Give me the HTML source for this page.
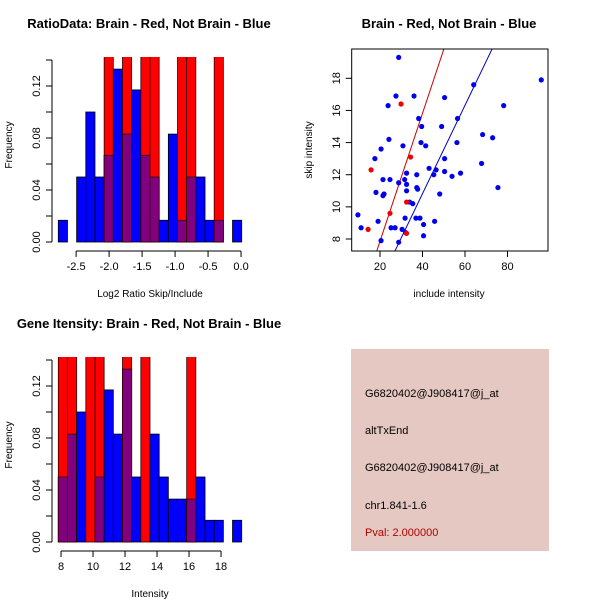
<!DOCTYPE html>
<html><head><meta charset="utf-8"><style>
body{margin:0;background:#fff;}
svg{display:block;font-family:"Liberation Sans",sans-serif;}
</style></head><body>
<svg id="c" width="600" height="600" xmlns="http://www.w3.org/2000/svg">
<rect x="351" y="349" width="198" height="202" fill="#e6c8c2"/>
<g font-size="11">
<text x="365" y="397">G6820402@J908417@j_at</text>
<text x="365" y="434">altTxEnd</text>
<text x="365" y="471">G6820402@J908417@j_at</text>
<text x="365" y="509">chr1.841-1.6</text>
<text x="365" y="536" fill="#b00000">Pval: 2.000000</text>
</g>
</svg>
<script>
// Ratio histogram data (20 bins)
const ratioBlue=[0.0167,0,0.05,0.1,0.05,0.0667,0.133,0.083,0.117,0.0667,0.05,0.0167,0.083,0.0167,0.05,0.05,0.0167,0.0167,0,0.0167];
const ratioRed=[0,0,0,0,0,0.2,0,0.2,0,0.2,0.2,0,0,0.2,0.2,0,0,0.2,0,0];
const ratioStart=-2.77, ratioBinW=0.139;
const ratioTicks=[-2.5,-2.0,-1.5,-1.0,-0.5,0.0];
// Intensity histogram data
const intBlue=[0.05,0.083,0.1,0,0.05,0.117,0.083,0.133,0.05,0,0.083,0.05,0.033,0.033,0.033,0.05,0.0167,0.0167,0,0.0167];
const intRed=[0.2,0.2,0,0.2,0.2,0,0,0.2,0,0.2,0,0,0,0,0.2,0,0,0,0,0];
const intStart=7.83, intBinW=0.573;
const intTicks=[8,10,12,14,16,18];
const freqTicks=[0,0.02,0.04,0.06,0.08,0.10,0.12,0.14];
const freqLabels=["0.00","","0.04","","0.08","","0.12",""];
// Scatter data
const blueX=[28.8,95.9,64.1,78.2,50.4,36.0,27.5,23.8,38.2,56.5,39.6,49.0,24.2,68.3,73.0,56.2,39.3,41.5,30.8,20.5,17.6,50.4,43.1,46.4,67.8,50.4,57.9,53.9,45.3,32.5,37.3,75.5,21.4,24.7,31.6,32.5,28.8,37.3,37.7,32.5,18.1,21.9,21.4,48.1,33.9,35.4,9.6,31.8,36.9,38.8,19.1,45.7,11.1,25.2,27.1,30.4,40.5,32.1,40.5,20.5,28.8];
const blueY=[19.3,17.9,17.6,16.3,16.8,16.9,16.9,16.3,15.5,15.5,15.0,15.0,14.2,14.5,14.3,14.0,14.0,13.8,13.8,13.6,13.0,13.0,12.4,12.3,12.7,12.2,12.1,11.9,12.0,12.1,12.0,11.2,11.7,11.7,11.7,11.4,11.5,11.2,11.1,11.0,10.9,10.8,10.7,10.8,10.3,10.2,9.5,9.3,9.3,9.3,9.1,9.1,8.7,8.7,8.7,8.6,8.9,8.4,8.2,7.9,7.8];
const redX=[29.9,15.8,34.4,24.7,32.5,14.4,32.5];
const redY=[16.4,12.3,13.1,9.6,10.3,8.6,8.35];
const redFit=[-0.1,0.398]; const blueFit=[-0.18,0.275];
const xTicksS=[20,40,60,80]; const yTicksS=[8,10,12,14,16,18];

const svg=document.getElementById('c');const NS="http://www.w3.org/2000/svg";
function el(t,a,p){const e=document.createElementNS(NS,t);for(const k in a)e.setAttribute(k,a[k]);(p||svg).appendChild(e);return e;}
function txt(x,y,s,a,p){const e=el('text',Object.assign({x:x,y:y,'text-anchor':'middle','font-size':11},a||{}),p);e.textContent=s;return e;}

function hist(oy,blue,red,start,bw,xt,xtFmt,title,xlab,name){
  const g=el('g',{});
  
  
  const x0=58.3,px=9.17/bw; const X=v=>x0+(v-start)*px; const base=oy+242; const Y=v=>base-v*1300; const top=oy+57;
  const cid='clip'+oy; const cp=el('clipPath',{id:cid},g); el('rect',{x:0,y:top,width:300,height:base-top+1},cp);
  const bars=el('g',{'clip-path':'url(#'+cid+')'},g);
  for(let i=0;i<blue.length;i++){
    const a=X(start+i*bw),w=px*bw;
    if(blue[i]>0){const r=el('rect',{x:a,y:Y(blue[i]),width:w,height:blue[i]*1300,fill:'#0000ff',stroke:'#000','stroke-width':0.8},bars);
      }
    if(red[i]>0){const r=el('rect',{x:a,y:Y(red[i]),width:w,height:red[i]*1300,fill:'#ff0000',stroke:'#300','stroke-width':0.8},bars);
      
      const m=Math.min(blue[i],red[i]);
      if(m>0){const p=el('rect',{x:a,y:Y(m),width:w,height:m*1300,fill:'#800080',stroke:'#300','stroke-width':0.8},bars);
        }}
  }
  el('line',{x1:52,x2:52,y1:Y(0),y2:Y(0.14),stroke:'#000'},g);
  freqTicks.forEach((v,i)=>{el('line',{x1:46,x2:52,y1:Y(v),y2:Y(v),stroke:'#000'},g);
    if(freqLabels[i]){txt(36,Y(v)+4,freqLabels[i],{transform:'rotate(-90 36 '+Y(v)+')'},g);}});
  txt(12,oy+145,'Frequency',{transform:'rotate(-90 12 '+(oy+145)+')','font-size':10},g);
  const ay=oy+251;
  el('line',{x1:X(xt[0]),x2:X(xt[xt.length-1]),y1:ay,y2:ay,stroke:'#000'},g);
  xt.forEach(v=>{el('line',{x1:X(v),x2:X(v),y1:ay,y2:ay+6,stroke:'#000'},g);txt(X(v),ay+19,xtFmt(v),{},g);});
  txt(150,oy+297,xlab,{'font-size':10},g);
  txt(149,oy+28,title,{'font-weight':'bold','font-size':13},g);
}
hist(0,ratioBlue,ratioRed,ratioStart,ratioBinW,ratioTicks,v=>v.toFixed(1),'RatioData: Brain - Red, Not Brain - Blue','Log2 Ratio Skip/Include','ratio-histogram');
hist(300,intBlue,intRed,intStart,intBinW,intTicks,v=>String(v),'Gene Itensity: Brain - Red, Not Brain - Blue','Intensity','intensity-histogram');

(function(){
  const g=el('g',{});
  
  
  const L=351.7,R=548,T=49,B=251;
  const X=v=>380+(v-20)*2.125, Y=v=>239-(v-8)*16.07;
  const cp=el('clipPath',{id:'sc'},g);el('rect',{x:L,y:T,width:R-L,height:B-T},cp);
  const inner=el('g',{'clip-path':'url(#sc)'},g);
  [[redFit,'#d00000','red-fit-line'],[blueFit,'#0000c0','blue-fit-line']].forEach(([f,c,n])=>{
    const xa=0,xb=110;const ln=el('line',{x1:X(xa),y1:Y(f[0]+f[1]*xa),x2:X(xb),y2:Y(f[0]+f[1]*xb),stroke:c,'stroke-width':1},inner);
    });
  blueX.forEach((x,i)=>{const c=el('circle',{cx:X(x),cy:Y(blueY[i]),r:2.6,fill:'#0000ee'},inner);
    });
  redX.forEach((x,i)=>{const c=el('circle',{cx:X(x),cy:Y(redY[i]),r:2.6,fill:'#ee0000'},inner);
    });
  el('rect',{x:L,y:T,width:R-L,height:B-T,fill:'none',stroke:'#000'},g);
  xTicksS.forEach(v=>{el('line',{x1:X(v),x2:X(v),y1:B,y2:B+6,stroke:'#000'},g);txt(X(v),B+19,String(v),{},g);});
  yTicksS.forEach(v=>{el('line',{x1:L-6,x2:L,y1:Y(v),y2:Y(v),stroke:'#000'},g);txt(336,Y(v)+4,String(v),{transform:'rotate(-90 336 '+Y(v)+')'},g);});
  txt(449,297,'include intensity',{'font-size':10},g);
  txt(312,150,'skip intensity',{transform:'rotate(-90 312 150)','font-size':10},g);
  txt(449,28,'Brain - Red, Not Brain - Blue',{'font-weight':'bold','font-size':13},g);
})();
</script>
</body></html>
